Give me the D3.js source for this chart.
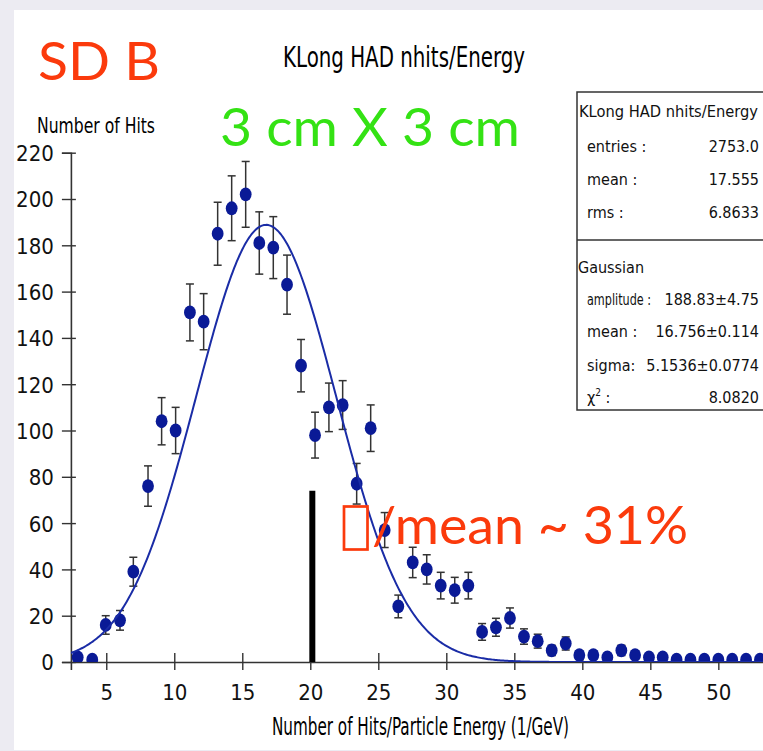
<!DOCTYPE html>
<html>
<head>
<meta charset="utf-8">
<script src="https://cdn.jsdelivr.net/npm/d3@7"></script>
<style>
  html, body { margin: 0; padding: 0; background: #ecebf2; }
  svg { display: block; }
</style>
</head>
<body>
<div id="chart"></div>
<script>
// KLong HAD nhits/Energy histogram with gaussian fit

// bin centres (1/GeV) and entries per bin
const binCenters = [2.90, 3.97, 4.96, 6.01, 6.99, 8.07, 9.07, 10.10, 11.15, 12.16,
  13.19, 14.22, 15.25, 16.25, 17.28, 18.29, 19.32, 20.35, 21.37, 22.38,
  23.41, 24.44, 25.47, 26.47, 27.53, 28.56, 29.59, 30.62, 31.62, 32.63,
  33.65, 34.68, 35.71, 36.72, 37.75, 38.78, 39.78, 40.81, 41.84, 42.87,
  43.88, 44.90, 45.91, 46.93, 47.95, 48.97, 50.00, 51.02, 52.04, 53.06];
const counts = [2, 1, 16, 18, 39, 76, 104, 100, 151, 147,
  185, 196, 202, 181, 179, 163, 128, 98, 110, 111,
  77, 101, 57, 24, 43, 40, 33, 31, 33, 13,
  15, 19, 11, 9, 5, 8, 3, 3, 2, 5,
  3, 2, 2, 1, 1, 1, 1, 1, 1, 1];

// gaussian fit parameters (from the stats box)
const fitAmplitude = 188.83;
const fitMean = 16.756;
const fitSigma = 5.1536;

const xTicks = [5, 10, 15, 20, 25, 30, 35, 40, 45, 50];
const yTicks = [0, 20, 40, 60, 80, 100, 120, 140, 160, 180, 200, 220];

// black marker line at 20 1/GeV
const markerX = 20.15;
const markerTop = 74;

const statsTitle = 'KLong HAD nhits/Energy';
const statsRows = [['entries :', '2753.0'], ['mean :', '17.555'], ['rms :', '6.8633']];
const fitTitle = 'Gaussian';
const fitRows = [['amplitude :', '188.83±4.75'], ['mean :', '16.756±0.114'], ['sigma:', '5.1536±0.0774'], ['χ', '8.0820']];

const W = 763, H = 751;
const narrow = '"Liberation Sans Narrow", "DejaVu Sans Condensed", sans-serif';
const round = 'Lato, "Noto Sans", sans-serif';
const red = '#fb3a0c';
const green = '#34e214';
const blue = '#0a1a96';

const svg = d3.select('#chart').append('svg')
  .attr('width', W)
  .attr('height', H);

svg.append('rect').attr('width', W).attr('height', H).attr('fill', '#ecebf2');
svg.append('rect').attr('x', 14).attr('y', 10).attr('width', W - 14).attr('height', 740).attr('fill', '#fff');

const x = d3.scaleLinear().domain([2.4, 53.6]).range([70.9, 767.3]);
const y = d3.scaleLinear().domain([0, 220]).range([662, 152.7]);

svg.append('clipPath').attr('id', 'plotClip')
  .append('rect').attr('x', x(2.4)).attr('y', 0).attr('width', W).attr('height', y(0));

// axes
const yAxis = svg.append('g')
  .attr('transform', `translate(${x(2.4)},0)`)
  .call(d3.axisLeft(y).tickValues(yTicks).tickSizeOuter(0).tickSize(9).tickPadding(8));
yAxis.selectAll('.tick line').attr('x1', 5);
yAxis.selectAll('.tick text').attr('dy', '0.36em');

const xAxis = svg.append('g')
  .attr('transform', `translate(0,${y(0)})`)
  .call(d3.axisBottom(x).tickValues(xTicks).tickSizeOuter(0).tickSize(8).tickPadding(14));
xAxis.selectAll('.tick line').attr('y1', -9);

[yAxis, xAxis].forEach(ax => {
  ax.select('.domain').attr('stroke', '#333').attr('stroke-width', 1.6);
  ax.selectAll('.tick line').attr('stroke', '#333').attr('stroke-width', 1.4);
  ax.selectAll('.tick text')
    .attr('fill', '#111')
    .style('font-family', narrow)
    .style('font-size', '22px');
});

const plot = svg.append('g').attr('clip-path', 'url(#plotClip)');

// error bars (sqrt N)
const bins = binCenters.map((c, i) => ({ x: c, n: counts[i], e: Math.sqrt(counts[i]) }));
const bars = plot.append('g').attr('stroke', '#333').attr('stroke-width', 1.5);
bars.selectAll('line.v').data(bins).join('line')
  .attr('x1', d => x(d.x)).attr('x2', d => x(d.x))
  .attr('y1', d => y(d.n - d.e)).attr('y2', d => y(d.n + d.e));
bars.selectAll('line.top').data(bins).join('line').attr('class', 'top')
  .attr('x1', d => x(d.x) - 4).attr('x2', d => x(d.x) + 4)
  .attr('y1', d => y(d.n + d.e)).attr('y2', d => y(d.n + d.e));
bars.selectAll('line.bot').data(bins).join('line').attr('class', 'bot')
  .attr('x1', d => x(d.x) - 4).attr('x2', d => x(d.x) + 4)
  .attr('y1', d => y(d.n - d.e)).attr('y2', d => y(d.n - d.e));

plot.append('g').selectAll('ellipse').data(bins).join('ellipse')
  .attr('cx', d => x(d.x))
  .attr('cy', d => y(d.n))
  .attr('rx', 5.9)
  .attr('ry', 6.9)
  .attr('fill', blue);

// fitted gaussian
const gauss = v => fitAmplitude * Math.exp(-0.5 * ((v - fitMean) / fitSigma) ** 2);
const curveX = d3.range(2.4, 53.6, 0.1);
plot.append('path')
  .datum(curveX)
  .attr('fill', 'none')
  .attr('stroke', '#1a2ca6')
  .attr('stroke-width', 2)
  .attr('d', d3.line().x(v => x(v)).y(v => y(gauss(v))));

// black marker
svg.append('line')
  .attr('x1', x(markerX)).attr('x2', x(markerX))
  .attr('y1', y(markerTop)).attr('y2', y(0))
  .attr('stroke', '#000').attr('stroke-width', 6);

// titles
svg.append('text').attr('x', 283).attr('y', 67)
  .attr('textLength', 242).attr('lengthAdjust', 'spacingAndGlyphs')
  .style('font-family', narrow).style('font-size', '28px')
  .text('KLong HAD nhits/Energy');
svg.append('text').attr('x', 37).attr('y', 133)
  .attr('textLength', 118).attr('lengthAdjust', 'spacingAndGlyphs')
  .style('font-family', narrow).style('font-size', '21px')
  .text('Number of Hits');
svg.append('text').attr('x', 272).attr('y', 735)
  .attr('textLength', 297).attr('lengthAdjust', 'spacingAndGlyphs')
  .style('font-family', narrow).style('font-size', '25px')
  .text('Number of Hits/Particle Energy (1/GeV)');

// annotations
svg.append('text').attr('x', 38).attr('y', 80)
  .attr('textLength', 122).attr('lengthAdjust', 'spacingAndGlyphs')
  .attr('fill', red).style('font-family', round).style('font-size', '52px')
  .text('SD B');
svg.append('text').attr('x', 220).attr('y', 146)
  .attr('textLength', 300).attr('lengthAdjust', 'spacingAndGlyphs')
  .attr('fill', green).style('font-family', round).style('font-size', '52px')
  .text('3 cm X 3 cm');
svg.append('rect').attr('x', 344).attr('y', 506.5).attr('width', 23.5).attr('height', 43)
  .attr('fill', 'none').attr('stroke', red).attr('stroke-width', 2.7);
svg.append('text').attr('x', 372).attr('y', 544)
  .attr('textLength', 316).attr('lengthAdjust', 'spacingAndGlyphs')
  .attr('fill', red).style('font-family', round).style('font-size', '52px')
  .text('/mean ~ 31%');

// stats box
const box = svg.append('g').style('font-family', narrow).style('font-size', '16px').attr('fill', '#111');
box.append('rect').attr('x', 577).attr('y', 92).attr('width', 220).attr('height', 318)
  .attr('fill', '#fff').attr('stroke', '#333').attr('stroke-width', 1.5);
box.append('line').attr('x1', 577).attr('x2', W).attr('y1', 240).attr('y2', 240)
  .attr('stroke', '#333').attr('stroke-width', 1.5);
box.append('text').attr('x', 579).attr('y', 117)
  .attr('textLength', 179).attr('lengthAdjust', 'spacingAndGlyphs')
  .text(statsTitle);
const statsY = [152, 185, 218];
statsRows.forEach((r, i) => {
  box.append('text').attr('x', 587).attr('y', statsY[i]).text(r[0]);
  box.append('text').attr('x', 759).attr('y', statsY[i]).attr('text-anchor', 'end').text(r[1]);
});
box.append('text').attr('x', 578).attr('y', 273).text(fitTitle);
const fitY = [305, 337, 371, 403];
fitRows.forEach((r, i) => {
  const t = box.append('text').attr('x', 587).attr('y', fitY[i]);
  if (r[0] === 'χ') {
    t.append('tspan').text('χ');
    t.append('tspan').attr('dy', -7).style('font-size', '10px').text('2');
    t.append('tspan').attr('dy', 7).text(' :');
  } else if (r[0] === 'amplitude :') {
    t.attr('textLength', 64).attr('lengthAdjust', 'spacingAndGlyphs').text(r[0]);
  } else {
    t.text(r[0]);
  }
  box.append('text').attr('x', 759).attr('y', fitY[i]).attr('text-anchor', 'end').text(r[1]);
});
</script>
</body>
</html>
